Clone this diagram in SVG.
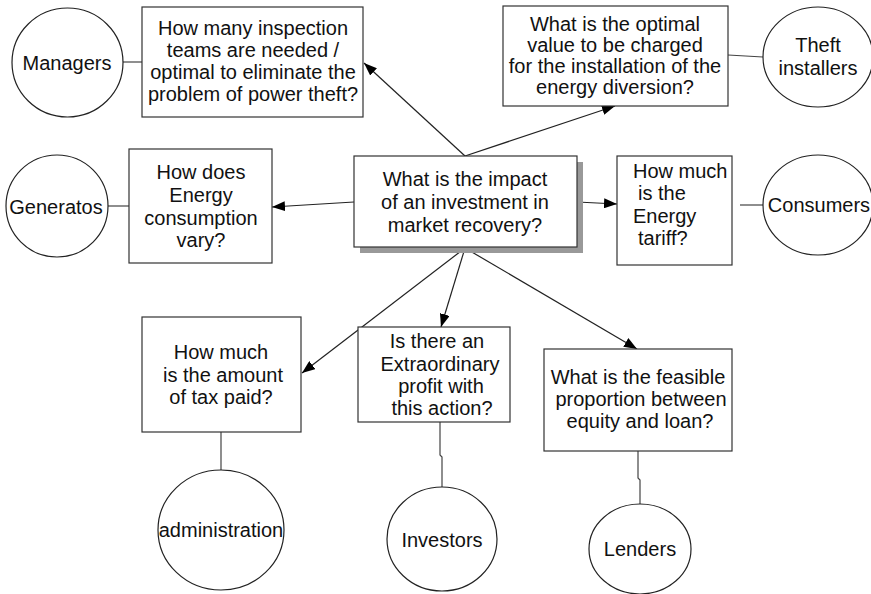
<svg xmlns="http://www.w3.org/2000/svg" width="871" height="594" viewBox="0 0 871 594">
  <style>
    .box { fill: #fff; stroke: #333; stroke-width: 1.2; }
    .shadow { fill: #999; stroke: none; }
    .actor { fill: #fff; stroke: #222; stroke-width: 1.2; }
    .label { font-family: "Liberation Sans", Arial, sans-serif; font-size: 20px; fill: #111; text-anchor: middle; }
    .left { text-anchor: start; }
    .link { fill: none; stroke: #222; stroke-width: 1.2; }
    .tie { fill: none; stroke: #444; stroke-width: 1.2; }
  </style>
  <defs>
    <marker id="arrow" markerUnits="userSpaceOnUse" markerWidth="14" markerHeight="10" refX="13" refY="5" orient="auto">
      <path d="M0,0 L13,5 L0,10 z" fill="#000"/>
    </marker>
  </defs>
  <rect width="871" height="594" fill="#fff"/>

  <g id="connectors">
    <!-- arrows from the central question -->
    <line class="link" x1="465" y1="156" x2="364" y2="63" marker-end="url(#arrow)"/>
    <line class="link" x1="465" y1="156" x2="615" y2="106" marker-end="url(#arrow)"/>
    <line class="link" x1="354" y1="202" x2="272" y2="207" marker-end="url(#arrow)"/>
    <line class="link" x1="577" y1="202" x2="617" y2="204" marker-end="url(#arrow)"/>
    <line class="link" x1="465" y1="248" x2="302" y2="373" marker-end="url(#arrow)"/>
    <line class="link" x1="465" y1="248" x2="441" y2="327" marker-end="url(#arrow)"/>
    <line class="link" x1="465" y1="248" x2="637" y2="349" marker-end="url(#arrow)"/>
    <!-- stakeholder ties -->
    <line class="tie" x1="123" y1="62" x2="142" y2="62"/>
    <line class="tie" x1="728" y1="55" x2="763" y2="57"/>
    <line class="tie" x1="107" y1="206" x2="129" y2="206"/>
    <line class="tie" x1="740" y1="205" x2="763" y2="205"/>
    <line class="tie" x1="221" y1="432" x2="221" y2="470"/>
    <polyline class="tie" points="440,422 440,455 442,457 442,487"/>
    <polyline class="tie" points="638,451 638,478 640,480 640,504"/>
  </g>

  <g id="central">
    <rect class="shadow" x="360" y="162" width="223" height="91"/>
    <rect class="box" x="354" y="156" width="223" height="91"/>
    <text class="label" x="465" y="186">What is the impact</text>
    <text class="label" x="465" y="209">of an investment in</text>
    <text class="label" x="465" y="232">market recovery?</text>
  </g>

  <g id="q-teams">
    <rect class="box" x="142" y="7" width="221" height="110"/>
    <text class="label" x="253" y="35">How many inspection</text>
    <text class="label" x="253" y="57">teams are needed /</text>
    <text class="label" x="253" y="79">optimal to eliminate the</text>
    <text class="label" x="253" y="101">problem of power theft?</text>
  </g>

  <g id="q-charge">
    <rect class="box" x="503" y="6" width="225" height="100"/>
    <text class="label" x="615" y="31">What is the optimal</text>
    <text class="label" x="615" y="52">value to be charged</text>
    <text class="label" x="615" y="73">for the installation of the</text>
    <text class="label" x="615" y="94">energy diversion?</text>
  </g>

  <g id="q-consumption">
    <rect class="box" x="129" y="149" width="143" height="114"/>
    <text class="label" x="201" y="179">How does</text>
    <text class="label" x="201" y="202">Energy</text>
    <text class="label" x="201" y="225">consumption</text>
    <text class="label" x="201" y="247">vary?</text>
  </g>

  <g id="q-tariff">
    <rect class="box" x="617" y="156" width="115" height="109"/>
    <text class="label left" x="633" y="178">How much</text>
    <text class="label left" x="638" y="200">is the</text>
    <text class="label left" x="633" y="223">Energy</text>
    <text class="label left" x="638" y="245">tariff?</text>
  </g>

  <g id="q-tax">
    <rect class="box" x="142" y="317" width="159" height="115"/>
    <text class="label" x="221" y="359">How much</text>
    <text class="label" x="223" y="382">is the amount</text>
    <text class="label" x="221" y="404">of tax paid?</text>
  </g>

  <g id="q-profit">
    <rect class="box" x="358" y="327" width="152" height="95"/>
    <text class="label" x="437" y="348">Is there an</text>
    <text class="label" x="440" y="371">Extraordinary</text>
    <text class="label" x="441" y="393">profit with</text>
    <text class="label" x="442" y="415">this action?</text>
  </g>

  <g id="q-equity">
    <rect class="box" x="544" y="349" width="188" height="102"/>
    <text class="label" x="638" y="384">What is the feasible</text>
    <text class="label" x="641" y="406">proportion between</text>
    <text class="label" x="640" y="428">equity and loan?</text>
  </g>

  <g id="managers">
    <ellipse class="actor" cx="67.5" cy="62.5" rx="55.5" ry="54.5"/>
    <text class="label" x="67" y="70">Managers</text>
  </g>

  <g id="theft-installers">
    <ellipse class="actor" cx="818" cy="57" rx="55" ry="50"/>
    <text class="label" x="818" y="52">Theft</text>
    <text class="label" x="818" y="75">installers</text>
  </g>

  <g id="generators">
    <ellipse class="actor" cx="57" cy="206" rx="51" ry="51"/>
    <text class="label" x="56" y="214">Generatos</text>
  </g>

  <g id="consumers">
    <ellipse class="actor" cx="818" cy="205" rx="55" ry="50"/>
    <text class="label" x="819" y="212">Consumers</text>
  </g>

  <g id="administration">
    <ellipse class="actor" cx="221" cy="530" rx="63" ry="60"/>
    <text class="label" x="221" y="537">administration</text>
  </g>

  <g id="investors">
    <ellipse class="actor" cx="442" cy="539" rx="55" ry="52"/>
    <text class="label" x="442" y="547">Investors</text>
  </g>

  <g id="lenders">
    <ellipse class="actor" cx="640" cy="549" rx="51" ry="45"/>
    <text class="label" x="640" y="556">Lenders</text>
  </g>
</svg>
